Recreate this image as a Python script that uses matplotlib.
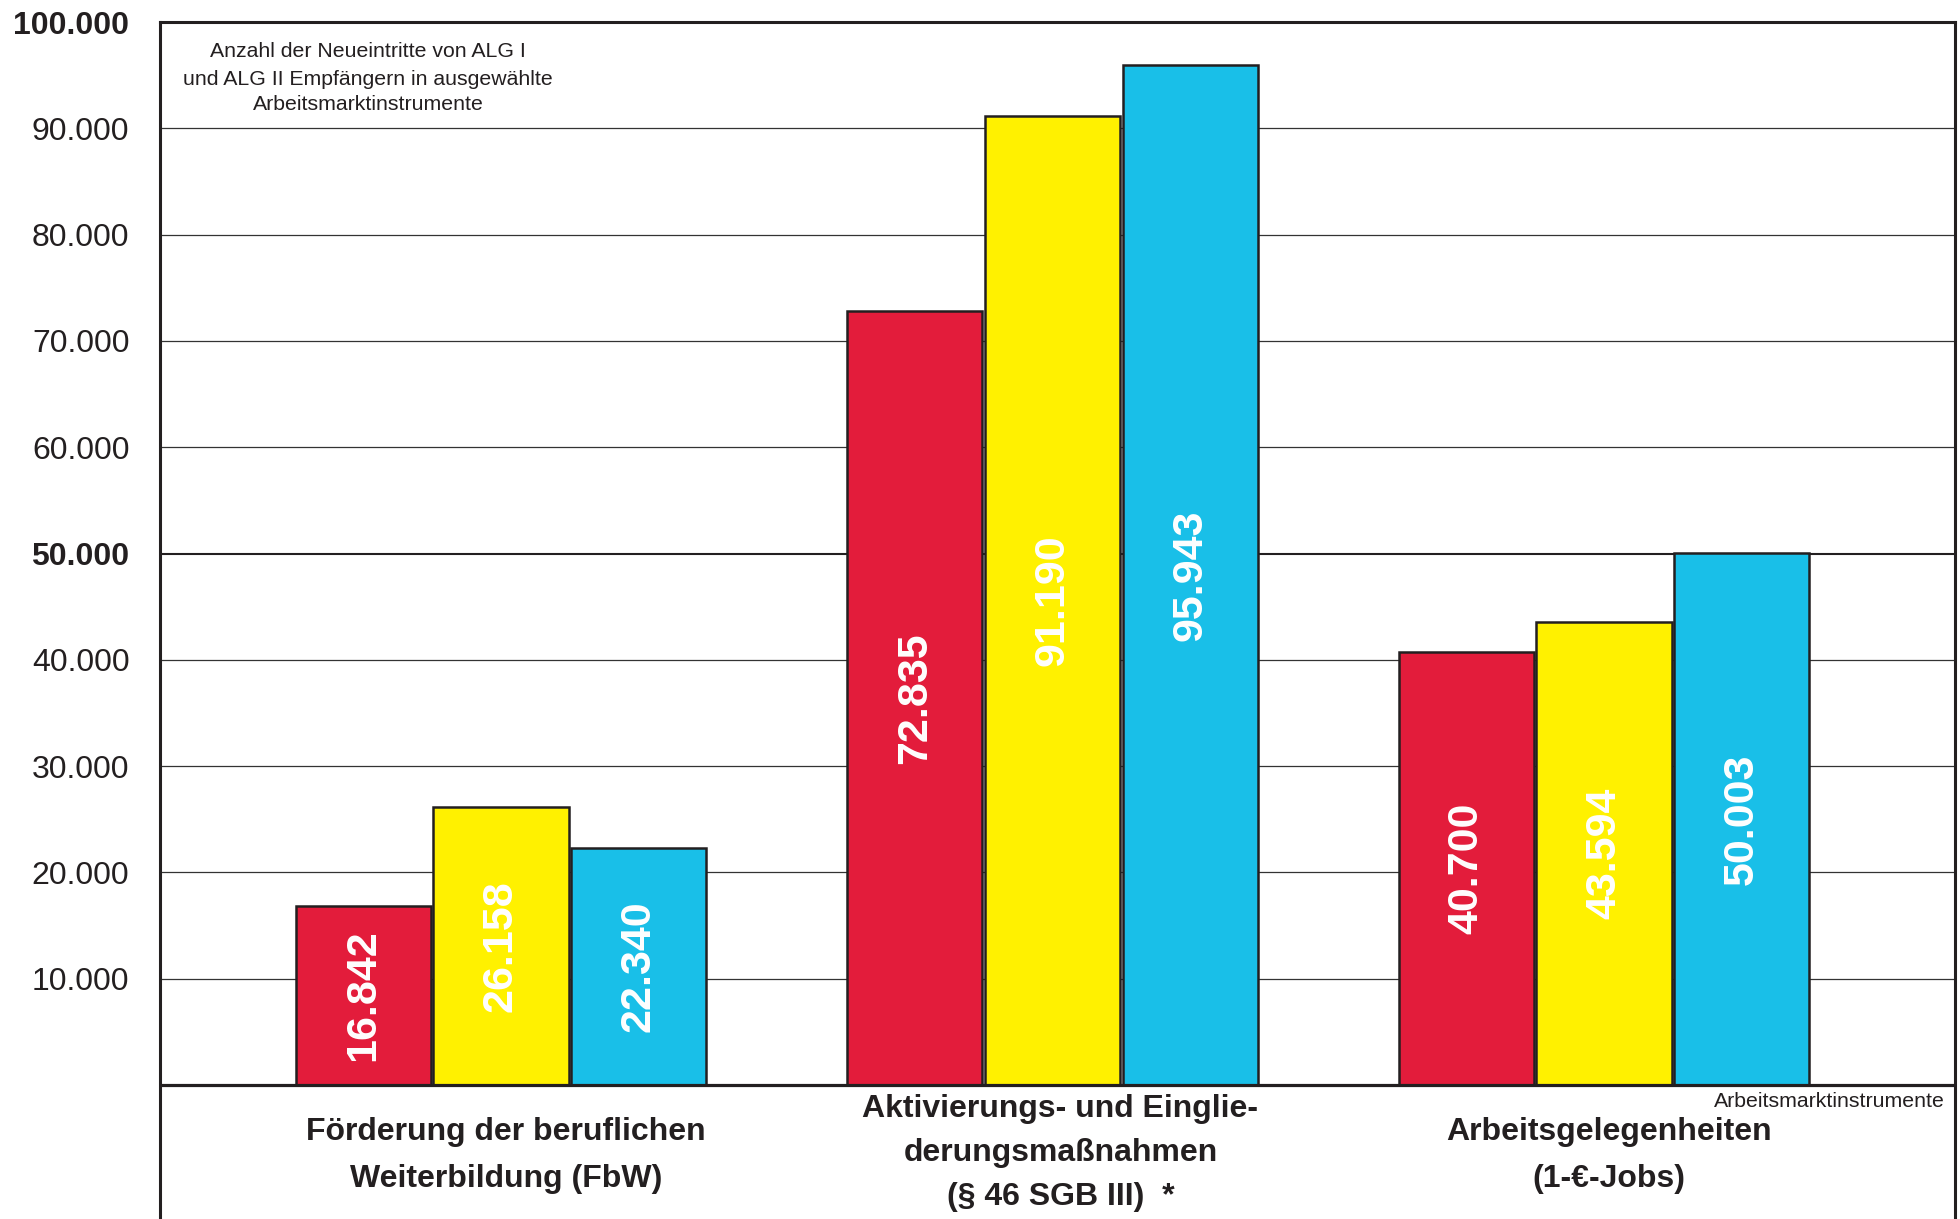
import matplotlib
matplotlib.use("Agg")
import matplotlib.pyplot as plt
import numpy as np

# ---- data ----
categories = [
    ["Förderung der beruflichen", "Weiterbildung (FbW)"],
    ["Aktivierungs- und Einglie-", "derungsmaßnahmen", "(§ 46 SGB III)  *"],
    ["Arbeitsgelegenheiten", "(1-€-Jobs)"],
]
series_red = [16842, 72835, 40700]
series_yellow = [26158, 91190, 43594]
series_cyan = [22340, 95943, 50003]
series = [series_red, series_yellow, series_cyan]
colors = ["#E31C3B", "#FFF100", "#19BFE8"]
yticks = [10000, 20000, 30000, 40000, 50000, 60000, 70000, 80000, 90000, 100000]
bold_ticks = [50000, 100000]
note_top = ["Anzahl der Neueintritte von ALG I",
            "und ALG II Empfängern in ausgewählte",
            "Arbeitsmarktinstrumente"]
axis_note = "Arbeitsmarktinstrumente"

plt.rcParams['font.family'] = ['Liberation Sans', 'DejaVu Sans']
DARK = "#231F20"

W, H = 1960, 1219
fig = plt.figure(figsize=(W / 100, H / 100), dpi=100)
ax_left, ax_right, ax_top = 160, 1955, 22
ax = fig.add_axes([ax_left / W, 0, (ax_right - ax_left) / W, 1 - ax_top / H])

base_px = 1085
per_px = 100000 / (base_px - ax_top)
ax.set_ylim(-(H - base_px) * per_px, 100000)
ax.set_xlim(-0.6183, 2.6365)

x = np.arange(len(categories))
pitch = 0.2498
width = 0.245
for i, (vals, col) in enumerate(zip(series, colors)):
    xs = x + (i - 1) * pitch
    ax.bar(xs, vals, width=width, color=col, edgecolor=DARK, linewidth=1.8, zorder=3)
    for xi, v in zip(xs, vals):
        ax.text(xi, v / 2, f"{v:,}".replace(",", "."), rotation=90, ha="center",
                va="center", color="white", fontsize=31, fontweight="bold", zorder=4)

# gridlines
for t in yticks[:-1]:
    if t in bold_ticks:
        ax.axhline(t, color=DARK, lw=1.5, zorder=1)
    else:
        ax.axhline(t, color="#333333", lw=0.9, zorder=1)
ax.axhline(0, color=DARK, lw=2.3, zorder=5)

for s in ["left", "right", "top"]:
    ax.spines[s].set_color(DARK)
    ax.spines[s].set_linewidth(2.2)
ax.spines["bottom"].set_visible(False)

ax.set_xticks([])
ax.set_yticks(yticks)
ax.set_yticklabels([f"{t:,}".replace(",", ".") for t in yticks])
ax.tick_params(axis="y", length=0, pad=22, labelsize=23, labelcolor=DARK)
for lab, t in zip(ax.get_yticklabels(), yticks):
    if t in bold_ticks:
        lab.set_fontweight("bold")

# category labels (baselines in pixels below the zero line)
baselines = {2: [1140, 1187], 3: [1117, 1161, 1205]}
xoff = [5, 8, 5]
for i, lines in enumerate(categories):
    for ln, yb in zip(lines, baselines[len(lines)]):
        ax.annotate(ln, xy=(x[i], 0), xycoords="data",
                    xytext=(xoff[i] * 0.72, -(yb - base_px) * 0.72), textcoords="offset points",
                    ha="center", va="baseline", fontsize=23, fontweight="bold", color=DARK,
                    annotation_clip=False)

# top-left note
for ln, yb in zip(note_top, [57, 85, 110]):
    fig.text(368 / W, 1 - yb / H, ln, ha="center", va="baseline", fontsize=15.3, color=DARK)

fig.text(1945 / W, 1 - 1107 / H, axis_note, ha="right", va="baseline", fontsize=15.3, color=DARK)

fig.savefig("out.png", dpi=100, facecolor="white")
